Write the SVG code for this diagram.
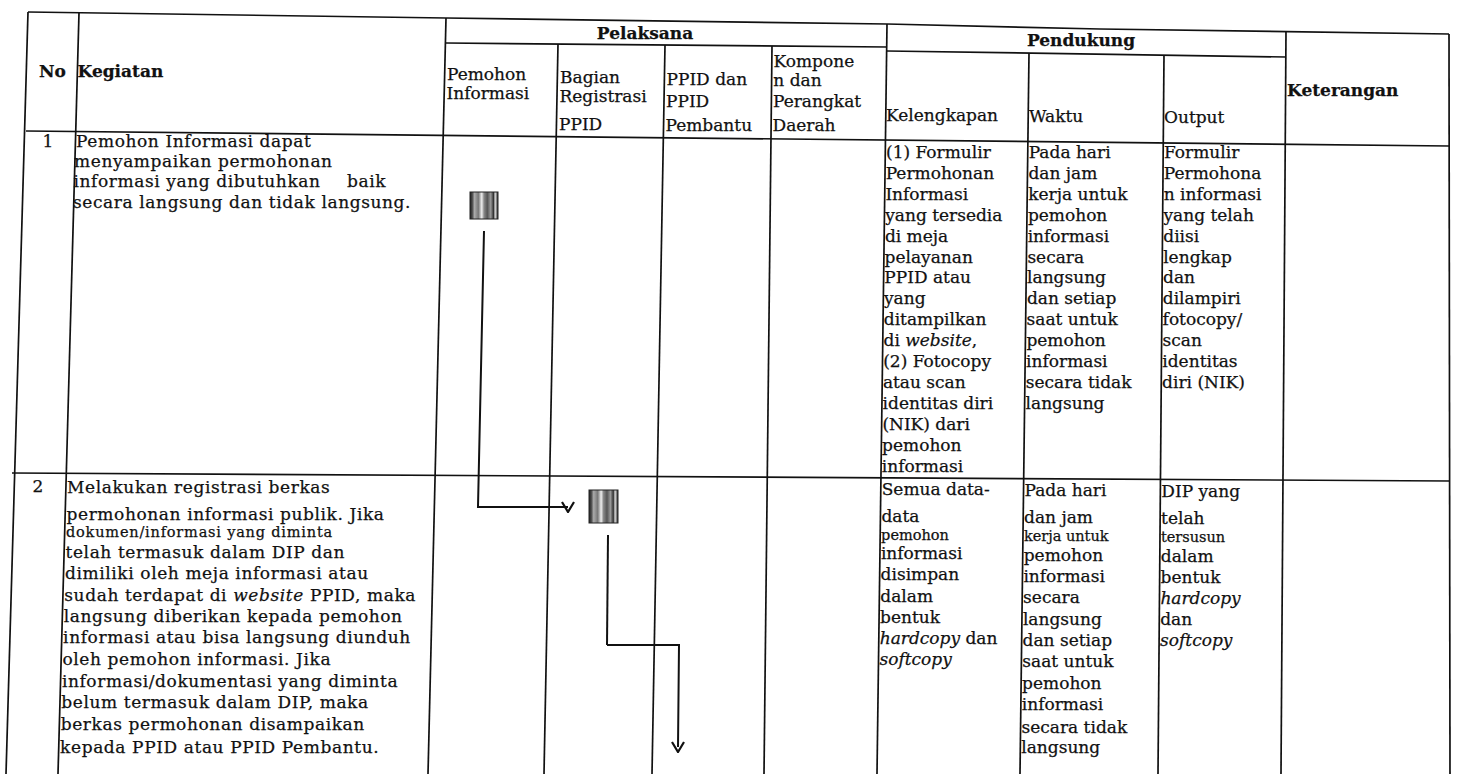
<svg xmlns="http://www.w3.org/2000/svg" width="1458" height="774" viewBox="0 0 1458 774">
<style>
.g{stroke:#111;stroke-width:1.7;fill:none}
.c{stroke:#111;stroke-width:2;fill:none}
.t{font-family:"DejaVu Serif","Liberation Serif",serif;font-size:17px;fill:#111;stroke:#111;stroke-width:0.25}
.b{font-weight:bold}
.k{letter-spacing:0.6px}
.s{font-size:14.5px}
.w{letter-spacing:0.8px}
.i{font-style:italic}
.m{text-anchor:middle}
.n{stroke:#222;stroke-width:1;fill:url(#scan)}
</style>
<defs>
<linearGradient id="scan" x1="0" y1="0" x2="1" y2="0">
<stop offset="0" stop-color="#222"/>
<stop offset="0.08" stop-color="#4a4a4a"/>
<stop offset="0.16" stop-color="#aaa"/>
<stop offset="0.3" stop-color="#777"/>
<stop offset="0.42" stop-color="#eee"/>
<stop offset="0.5" stop-color="#888"/>
<stop offset="0.62" stop-color="#555"/>
<stop offset="0.74" stop-color="#999"/>
<stop offset="0.84" stop-color="#333"/>
<stop offset="0.9" stop-color="#ddd"/>
<stop offset="1" stop-color="#222"/>
</linearGradient>
<marker id="chev" viewBox="0 0 12 14" markerUnits="userSpaceOnUse" markerWidth="12" markerHeight="14" refX="6" refY="7" orient="90">
<path d="M1,1 L11,7 L1,13" fill="none" stroke="#111" stroke-width="2.2"/>
</marker>
</defs>
<rect width="1458" height="774" fill="#fff"/>
<g id="grid">
<polyline class="g" points="28,12 446,18 887,24 1100,29 1449,34"/>
<line class="g" x1="28" y1="12" x2="6" y2="774"/>
<line class="g" x1="79" y1="13" x2="58" y2="774"/>
<line class="g" x1="446" y1="18" x2="428" y2="774"/>
<line class="g" x1="887" y1="24" x2="877" y2="774"/>
<line class="g" x1="1286" y1="31" x2="1281" y2="774"/>
<line class="g" x1="1449" y1="34" x2="1450" y2="774"/>
<line class="g" x1="446" y1="43" x2="887" y2="47"/>
<line class="g" x1="887" y1="51" x2="1286" y2="57"/>
<line class="g" x1="558" y1="44" x2="544" y2="774"/>
<line class="g" x1="665" y1="45" x2="652" y2="774"/>
<line class="g" x1="772" y1="46" x2="764" y2="774"/>
<line class="g" x1="1029" y1="53" x2="1020" y2="774"/>
<line class="g" x1="1164" y1="55" x2="1158" y2="774"/>
<line class="g" x1="26" y1="131" x2="1449" y2="146"/>
<line class="g" x1="12" y1="473" x2="1449" y2="481"/>
</g>
<g id="header">
<text class="t b" x="39" y="77">No</text>
<text class="t b" x="77.5" y="77">Kegiatan</text>
<text class="t b m" x="645" y="39">Pelaksana</text>
<text class="t b m" x="1081" y="46">Pendukung</text>
<text class="t b" x="1287" y="96">Keterangan</text>
<text class="t" x="447" y="80">Pemohon</text>
<text class="t" x="446.5" y="99">Informasi</text>
<text class="t" x="560" y="83">Bagian</text>
<text class="t" x="559.5" y="102">Registrasi</text>
<text class="t" x="559" y="129.5">PPID</text>
<text class="t" x="666.5" y="85">PPID dan</text>
<text class="t" x="666" y="106.5">PPID</text>
<text class="t" x="665.5" y="131">Pembantu</text>
<text class="t" x="773.5" y="67">Kompone</text>
<text class="t" x="773.3" y="86">n dan</text>
<text class="t" x="773" y="106.5">Perangkat</text>
<text class="t" x="772.5" y="131">Daerah</text>
<text class="t" x="886" y="121">Kelengkapan</text>
<text class="t" x="1029" y="121.5">Waktu</text>
<text class="t" x="1164" y="122.5">Output</text>
</g>
<g id="row-1">
<text class="t m" x="48" y="147">1</text>
<text class="t k" x="76" y="147">Pemohon Informasi dapat</text>
<text class="t k" x="74" y="167">menyampaikan permohonan</text>
<text class="t k" x="73.5" y="187">informasi yang dibutuhkan<tspan x="347">baik</tspan></text>
<text class="t k" x="73" y="208">secara langsung dan tidak langsung.</text>
<text class="t" x="886" y="158">(1) Formulir</text>
<text class="t" x="885.7" y="178.9">Permohonan</text>
<text class="t" x="885.4" y="199.8">Informasi</text>
<text class="t" x="885.2" y="220.7">yang tersedia</text>
<text class="t" x="884.9" y="241.6">di meja</text>
<text class="t" x="884.6" y="262.5">pelayanan</text>
<text class="t" x="884.3" y="283.4">PPID atau</text>
<text class="t" x="884" y="304.3">yang</text>
<text class="t" x="883.8" y="325.2">ditampilkan</text>
<text class="t" x="883.5" y="346.1">di <tspan class="i">website</tspan>,</text>
<text class="t" x="883.2" y="367">(2) Fotocopy</text>
<text class="t" x="882.9" y="387.9">atau scan</text>
<text class="t" x="882.6" y="408.8">identitas diri</text>
<text class="t" x="882.4" y="429.7">(NIK) dari</text>
<text class="t" x="882.1" y="450.6">pemohon</text>
<text class="t" x="881.8" y="471.5">informasi</text>
<text class="t" x="1028.7" y="158">Pada hari</text>
<text class="t" x="1028.4" y="178.9">dan jam</text>
<text class="t" x="1028.2" y="199.8">kerja untuk</text>
<text class="t" x="1027.9" y="220.7">pemohon</text>
<text class="t" x="1027.7" y="241.6">informasi</text>
<text class="t" x="1027.4" y="262.5">secara</text>
<text class="t" x="1027.1" y="283.4">langsung</text>
<text class="t" x="1026.9" y="304.3">dan setiap</text>
<text class="t" x="1026.6" y="325.2">saat untuk</text>
<text class="t" x="1026.4" y="346.1">pemohon</text>
<text class="t" x="1026.1" y="367">informasi</text>
<text class="t" x="1025.8" y="387.9">secara tidak</text>
<text class="t" x="1025.6" y="408.8">langsung</text>
<text class="t" x="1164" y="158">Formulir</text>
<text class="t" x="1163.8" y="178.9">Permohona</text>
<text class="t" x="1163.7" y="199.8">n informasi</text>
<text class="t" x="1163.5" y="220.7">yang telah</text>
<text class="t" x="1163.3" y="241.6">diisi</text>
<text class="t" x="1163.2" y="262.5">lengkap</text>
<text class="t" x="1163" y="283.4">dan</text>
<text class="t" x="1162.8" y="304.3">dilampiri</text>
<text class="t" x="1162.6" y="325.2">fotocopy/</text>
<text class="t" x="1162.5" y="346.1">scan</text>
<text class="t" x="1162.3" y="367">identitas</text>
<text class="t" x="1162.1" y="387.9">diri (NIK)</text>
</g>
<g id="row-2">
<text class="t m" x="38" y="492">2</text>
<text class="t k" x="67" y="493">Melakukan registrasi berkas</text>
<text class="t k" x="66.5" y="520">permohonan informasi publik. Jika</text>
<text class="t s w" x="66" y="537">dokumen/informasi yang diminta</text>
<text class="t k" x="65.5" y="558">telah termasuk dalam DIP dan</text>
<text class="t k" x="65" y="579">dimiliki oleh meja informasi atau</text>
<text class="t k" x="64.3" y="601">sudah terdapat di <tspan class="i">website</tspan> PPID, maka</text>
<text class="t k" x="63.7" y="622">langsung diberikan kepada pemohon</text>
<text class="t k" x="63.1" y="643">informasi atau bisa langsung diunduh</text>
<text class="t k" x="62.5" y="665">oleh pemohon informasi. Jika</text>
<text class="t k" x="61.9" y="687">informasi/dokumentasi yang diminta</text>
<text class="t k" x="61.3" y="708">belum termasuk dalam DIP, maka</text>
<text class="t k" x="60.7" y="730">berkas permohonan disampaikan</text>
<text class="t k" x="60.1" y="753">kepada PPID atau PPID Pembantu.</text>
<text class="t" x="881.7" y="495">Semua data-</text>
<text class="t" x="881.4" y="522">data</text>
<text class="t s" x="881.1" y="540">pemohon</text>
<text class="t" x="880.9" y="559">informasi</text>
<text class="t" x="880.6" y="580">disimpan</text>
<text class="t" x="880.3" y="602">dalam</text>
<text class="t" x="880" y="623">bentuk</text>
<text class="t" x="879.7" y="644"><tspan class="i">hardcopy</tspan> dan</text>
<text class="t i" x="879.5" y="665">softcopy</text>
<text class="t" x="1024.5" y="496">Pada hari</text>
<text class="t" x="1024.1" y="523">dan jam</text>
<text class="t s" x="1023.9" y="541">kerja untuk</text>
<text class="t" x="1023.7" y="561">pemohon</text>
<text class="t" x="1023.4" y="582">informasi</text>
<text class="t" x="1023.1" y="603">secara</text>
<text class="t" x="1022.9" y="625">langsung</text>
<text class="t" x="1022.6" y="646">dan setiap</text>
<text class="t" x="1022.3" y="667">saat untuk</text>
<text class="t" x="1022.1" y="689">pemohon</text>
<text class="t" x="1021.8" y="710">informasi</text>
<text class="t" x="1021.5" y="733">secara tidak</text>
<text class="t" x="1021.3" y="753">langsung</text>
<text class="t" x="1161.3" y="497">DIP yang</text>
<text class="t" x="1161.1" y="524">telah</text>
<text class="t s" x="1160.9" y="542">tersusun</text>
<text class="t" x="1160.8" y="562">dalam</text>
<text class="t" x="1160.6" y="583">bentuk</text>
<text class="t i" x="1160.4" y="604">hardcopy</text>
<text class="t" x="1160.2" y="625">dan</text>
<text class="t i" x="1160.1" y="646">softcopy</text>
</g>
<g id="node-1"><rect class="n" x="470" y="192" width="28" height="27"/></g>
<g id="node-2"><rect class="n" x="589" y="490" width="29" height="33"/></g>
<g id="connectors">
<path class="c" d="M484,231 L478,507 L568,507" marker-end="url(#chev)"/>
<path class="c" d="M608,535 L607,645" stroke-width="3"/>
<path class="c" d="M607,645 L679,645 L678,747" marker-end="url(#chev)"/>
</g>
</svg>
